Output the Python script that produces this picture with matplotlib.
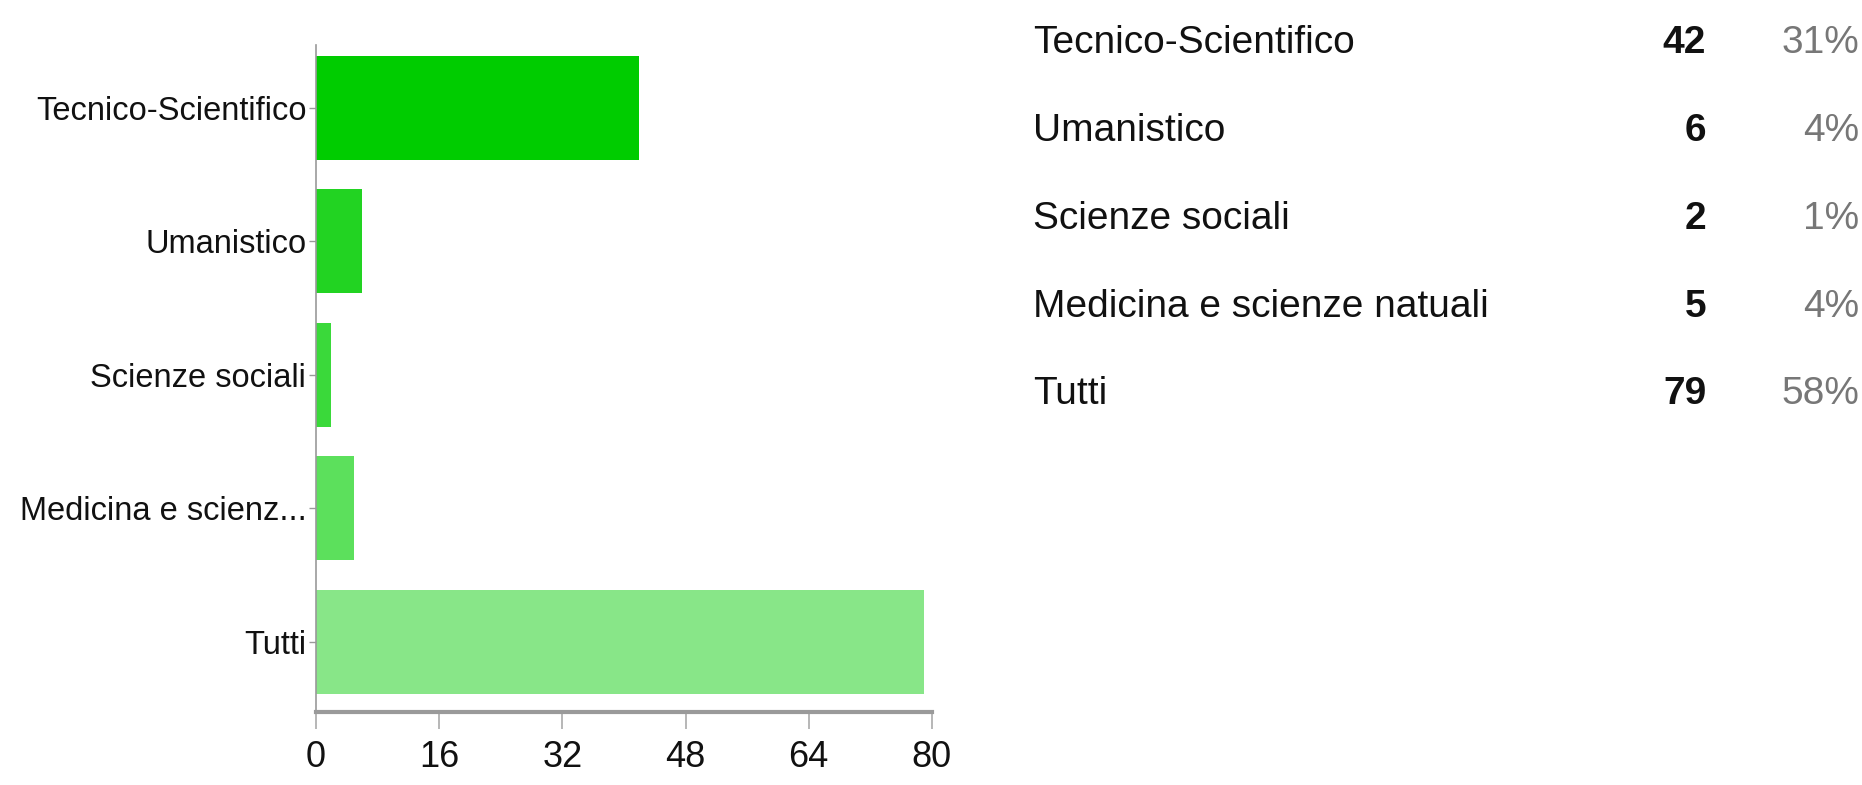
import matplotlib
matplotlib.use("Agg")
import matplotlib.pyplot as plt
import numpy as np

# survey answers
categories = ["Tecnico-Scientifico", "Umanistico", "Scienze sociali",
              "Medicina e scienze natuali", "Tutti"]
axis_labels = ["Tecnico-Scientifico", "Umanistico", "Scienze sociali",
               "Medicina e scienz...", "Tutti"]
counts = [42, 6, 2, 5, 79]
percents = ["31%", "4%", "1%", "4%", "58%"]
bar_colors = ["#00cc00", "#22d322", "#3ad93a", "#5ce05c", "#88e688"]
xticks = [0, 16, 32, 48, 64, 80]

plt.rcParams["font.family"] = ["Liberation Sans", "DejaVu Sans"]

fig = plt.figure(figsize=(18.62, 7.85), dpi=100)
ax = fig.add_axes([0.1697, 0.093, 0.3308, 0.8497])

y = np.arange(len(categories))
ax.barh(y, counts, height=0.78, color=bar_colors, edgecolor="none")
ax.set_ylim(4.525, -0.47)
ax.set_xlim(0, 80)

ax.set_yticks(y)
ax.set_yticklabels(axis_labels, fontsize=23.5, color="#111111")
ax.set_xticks(xticks)
ax.set_xticklabels([str(t) for t in xticks], fontsize=26, color="#111111")

for s in ["top", "right"]:
    ax.spines[s].set_visible(False)
ax.spines["left"].set_color("#999999")
ax.spines["left"].set_linewidth(1.2)
ax.spines["bottom"].set_color("#9a9a9a")
ax.spines["bottom"].set_linewidth(3)
ax.tick_params(axis="y", length=5, color="#999999", width=1, pad=2)
ax.tick_params(axis="x", length=12, color="#aaaaaa", width=1.2, pad=8)

# summary table on the right
row_top = 0.9455
row_step = 0.112
for i, (lab, n, p) in enumerate(zip(categories, counts, percents)):
    yy = row_top - i * row_step
    fig.text(0.5548, yy, lab, fontsize=28, ha="left", va="center", color="#111111")
    fig.text(0.9163, yy, str(n), fontsize=28, ha="right", va="center",
             fontweight="bold", color="#111111")
    fig.text(0.9985, yy, p, fontsize=28, ha="right", va="center", color="#777777")

fig.savefig("out.png", dpi=100, facecolor="white")
